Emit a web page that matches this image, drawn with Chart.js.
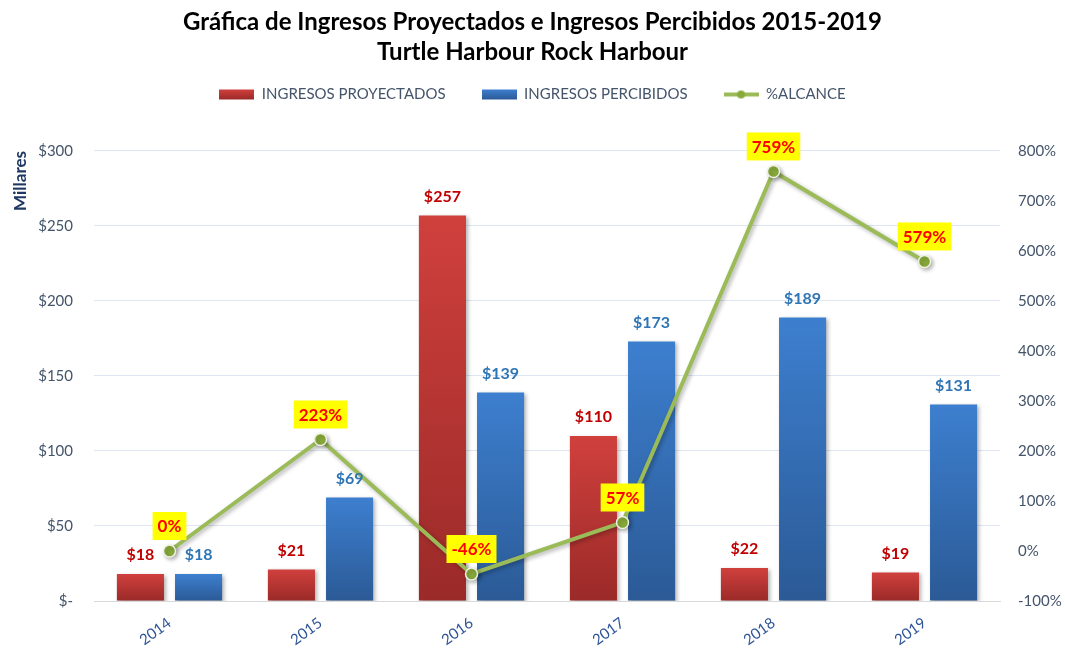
<!DOCTYPE html>
<html>
<head>
<meta charset="utf-8">
<script src="https://cdn.jsdelivr.net/npm/chart.js@4.4.0/dist/chart.umd.min.js"></script>
<style>
  html, body { margin: 0; padding: 0; background: #fff; }
  #wrap { width: 1065px; height: 650px; }
</style>
</head>
<body>
<div id="wrap"><canvas id="chart"></canvas></div>
<script>
// data
const years     = ['2014', '2015', '2016', '2017', '2018', '2019'];
const projected = [18, 21, 257, 110, 22, 19];      // INGRESOS PROYECTADOS (miles $)
const received  = [18, 69, 139, 173, 189, 131];    // INGRESOS PERCIBIDOS (miles $)
const reach     = [0, 223, -46, 57, 759, 579];     // %ALCANCE
const titleLines = ['Gráfica de Ingresos Proyectados e Ingresos Percibidos 2015-2019', 'Turtle Harbour Rock Harbour'];

const RED_TOP = '#d0403d', RED_BOT = '#9a2a28';
const BLUE_TOP = '#3d7fcf', BLUE_BOT = '#2b5a96';
const GREEN = '#9bbb59';
const FONT = 'Lato';

function barGradient(top, bottom) {
  return ctx => {
    const chart = ctx.chart;
    if (!chart.chartArea || ctx.raw === undefined) return top;
    const y = chart.scales.y.getPixelForValue(ctx.raw);
    const y0 = chart.scales.y.getPixelForValue(0);
    const g = chart.ctx.createLinearGradient(0, y, 0, y0);
    g.addColorStop(0, top);
    g.addColorStop(1, bottom);
    return g;
  };
}

// small canvases used as legend markers
function swatch(kind) {
  const c = document.createElement('canvas');
  c.width = 35; c.height = 12;
  const g = c.getContext('2d');
  if (kind === 'line') {
    g.strokeStyle = GREEN; g.lineWidth = 4;
    g.beginPath(); g.moveTo(0, 6); g.lineTo(35, 6); g.stroke();
    g.fillStyle = '#88aa3a';
    g.beginPath(); g.arc(17.5, 6, 4, 0, Math.PI * 2); g.fill();
  } else {
    const gr = g.createLinearGradient(0, 1, 0, 11);
    gr.addColorStop(0, kind === 'red' ? RED_TOP : BLUE_TOP);
    gr.addColorStop(1, kind === 'red' ? RED_BOT : BLUE_BOT);
    g.fillStyle = gr;
    g.fillRect(0, 1, 35, 10);
  }
  return c;
}
const swatches = [swatch('red'), swatch('blue'), swatch('line')];

// extra room under the legend
const legendGap = {
  id: 'legendGap',
  beforeUpdate(chart) {
    const lg = chart.legend;
    if (!lg || lg._gapPatched) return;
    const fit = lg.fit;
    lg.fit = function () { fit.call(this); this.height += 39; };
    lg._gapPatched = true;
  }
};

const shadows = {
  id: 'shadows',
  beforeDatasetDraw(chart) {
    const c = chart.ctx;
    c.save();
    c.shadowColor = 'rgba(0,0,0,0.3)';
    c.shadowBlur = 4;
    c.shadowOffsetX = 2;
    c.shadowOffsetY = 2;
  },
  afterDatasetDraw(chart) { chart.ctx.restore(); }
};

const valueLabels = {
  id: 'valueLabels',
  afterDatasetsDraw(chart) {
    const ctx = chart.ctx;
    ctx.save();
    ctx.textAlign = 'center';
    ctx.textBaseline = 'middle';
    const colors = ['#c00000', '#2e75b6'];
    [0, 1].forEach(di => {
      ctx.font = `bold 16px ${FONT}`;
      ctx.fillStyle = colors[di];
      chart.getDatasetMeta(di).data.forEach((bar, i) => {
        ctx.fillText('$' + chart.data.datasets[di].data[i], bar.x, bar.y - 19);
      });
    });
    ctx.font = `bold 17px ${FONT}`;
    chart.getDatasetMeta(2).data.forEach((pt, i) => {
      const txt = reach[i] + '%';
      const w = ctx.measureText(txt).width + 10;
      const cx = pt.x, cy = pt.y - 25;
      ctx.fillStyle = '#ffff00';
      ctx.fillRect(cx - w / 2, cy - 14, w, 28);
      ctx.fillStyle = '#ff0000';
      ctx.fillText(txt, cx, cy + 1);
    });
    ctx.restore();
  }
};

new Chart(document.getElementById('chart'), {
  data: {
    labels: years,
    datasets: [
      { type: 'bar', label: 'INGRESOS PROYECTADOS', data: projected, yAxisID: 'y', order: 2,
        backgroundColor: barGradient(RED_TOP, RED_BOT), categoryPercentage: 0.77, barPercentage: 0.81 },
      { type: 'bar', label: 'INGRESOS PERCIBIDOS', data: received, yAxisID: 'y', order: 2,
        backgroundColor: barGradient(BLUE_TOP, BLUE_BOT), categoryPercentage: 0.77, barPercentage: 0.81 },
      { type: 'line', label: '%ALCANCE', data: reach, yAxisID: 'y2', order: 1,
        borderColor: GREEN, borderWidth: 4, backgroundColor: GREEN,
        pointRadius: 6, pointBackgroundColor: '#88aa3a', pointBorderColor: '#eef2e2', pointBorderWidth: 1.5,
        tension: 0 }
    ]
  },
  options: {
    responsive: true,
    maintainAspectRatio: false,
    animation: false,
    layout: { padding: { left: 0, right: 0, top: 0, bottom: 0 } },
    plugins: {
      title: {
        display: true,
        text: titleLines,
        color: '#000',
        font: { family: FONT, size: 24, weight: 'bold', lineHeight: 1.27 },
        padding: { top: 7, bottom: -17 }
      },
      legend: {
        position: 'top',
        labels: {
          usePointStyle: true,
          pointStyleWidth: 35,
          padding: 36,
          color: '#44546a',
          font: { family: FONT, size: 15 },
          generateLabels(chart) {
            const items = Chart.defaults.plugins.legend.labels.generateLabels(chart);
            items.sort((a, b) => a.datasetIndex - b.datasetIndex);
            items.forEach(it => { it.pointStyle = swatches[it.datasetIndex]; });
            return items;
          }
        }
      },
      tooltip: { enabled: false }
    },
    scales: {
      x: {
        grid: { display: false },
        border: { color: '#d9d9d9', width: 1 },
        ticks: { color: '#2f5597', font: { family: FONT, size: 15 }, maxRotation: 36, minRotation: 36, padding: 5 },
        afterFit(s) { s.height = 49; }
      },
      y: {
        position: 'left',
        min: 0, max: 300,
        ticks: { stepSize: 50, padding: 21, color: '#44546a', font: { family: FONT, size: 15 },
          callback: v => v === 0 ? '$-' : '$' + v },
        grid: { color: '#dde6f2', drawTicks: false },
        border: { display: false },
        title: { display: true, text: 'Millares', align: 'end', color: '#1f3864',
          font: { family: FONT, size: 17, weight: 'bold' }, padding: { top: 10, bottom: 0 } },
        afterFit(s) { s.width = 94; }
      },
      y2: {
        position: 'right',
        min: -100, max: 800,
        ticks: { stepSize: 100, padding: 18, color: '#44546a', font: { family: FONT, size: 15 },
          callback: v => v + '%' },
        grid: { display: false, drawTicks: false },
        border: { display: false },
        afterFit(s) { s.width = 65; }
      }
    }
  },
  plugins: [legendGap, shadows, valueLabels]
});
</script>
</body>
</html>
